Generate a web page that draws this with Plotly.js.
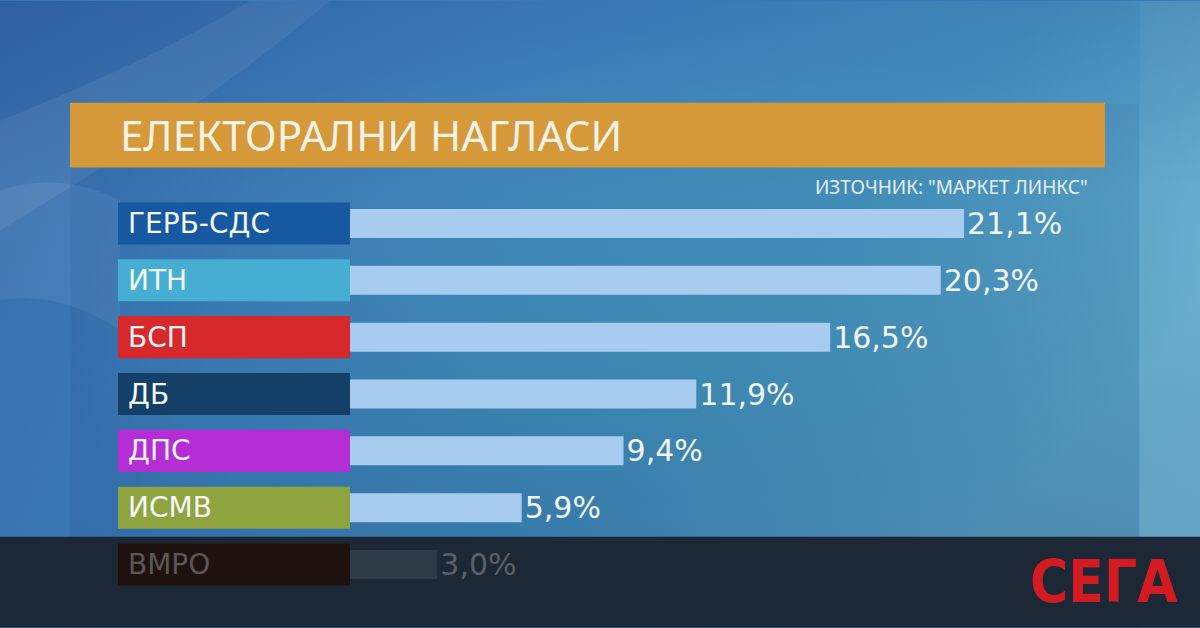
<!DOCTYPE html>
<html lang="bg">
<head>
<meta charset="utf-8">
<script src="https://cdn.plot.ly/plotly-3.0.1.min.js"></script>
<style>
html,body{margin:0;padding:0;background:#3a78b8;}
#chart{width:1200px;height:628px;}
</style>
</head>
<body>
<div id="chart"></div>
<script>
// ---- data ----
const categories = ['ГЕРБ-СДС', 'ИТН', 'БСП', 'ДБ', 'ДПС', 'ИСМВ', 'ВМРО'];
const values = [21.1, 20.3, 16.5, 11.9, 9.4, 5.9, 3.0];
const titleText = 'ЕЛЕКТОРАЛНИ НАГЛАСИ';
const sourceText = 'ИЗТОЧНИК: "МАРКЕТ ЛИНКС"';
const logoText = 'СЕГА';

// ---- styles ----
const boxColors = ['#1659a0', '#47aed3', '#d7282b', '#143f66', '#b52ed5', '#8fa43f', '#1f110e'];
const barColors = ['#a7ccef', '#a7ccef', '#a7ccef', '#a7ccef', '#a7ccef', '#a7ccef', '#2e3a45'];
const labelColors = ['#f4f6f8', '#f4f6f8', '#f4f6f8', '#f4f6f8', '#f4f6f8', '#f4f6f8', '#585858'];
const valueColors = ['#f2f5f8', '#f2f5f8', '#f2f5f8', '#f2f5f8', '#f2f5f8', '#f2f5f8', '#5a6067'];

const W = 1200, H = 628;
const M = {l: 0, r: 0, t: 194.5, b: 34.5};
const plotW = W - M.l - M.r, plotH = H - M.t - M.b;
const px = x => (x - M.l) / plotW;
const py = y => 1 - (y - M.t) / plotH;
const UNIT = 29.1;             // pixels per percentage point
const ZERO = 350;              // pixel where bars start
const LABEL_W = 232 / UNIT;    // width of the label boxes in axis units
const FONT = 'Noto Sans, Open Sans, DejaVu Sans, sans-serif';
const FONT_WIDE = 'DejaVu Sans, Noto Sans, sans-serif';

// background
const bgSvg = `<svg xmlns="http://www.w3.org/2000/svg" width="1200" height="628" viewBox="0 0 1200 628" preserveAspectRatio="none">
<defs>
<linearGradient id="g" x1="0" y1="0" x2="1" y2="0.5">
<stop offset="0" stop-color="#3466a6"/>
<stop offset="0.35" stop-color="#3f7fbd"/>
<stop offset="0.7" stop-color="#4590c0"/>
<stop offset="1" stop-color="#66aecd"/>
</linearGradient>
<linearGradient id="v" x1="0" y1="0" x2="0" y2="1">
<stop offset="0" stop-color="#0b2f6a" stop-opacity="0.12"/>
<stop offset="0.3" stop-color="#0b2f6a" stop-opacity="0"/>
<stop offset="1" stop-color="#0b2f6a" stop-opacity="0.15"/>
</linearGradient>
<radialGradient id="r" cx="0.55" cy="0.55" r="0.5">
<stop offset="0" stop-color="#46a3bd" stop-opacity="0.55"/>
<stop offset="1" stop-color="#46a3bd" stop-opacity="0"/>
</radialGradient>
<linearGradient id="p" x1="0" y1="0" x2="0" y2="1">
<stop offset="0" stop-color="#1a4a78" stop-opacity="0.08"/>
<stop offset="1" stop-color="#1a3f80" stop-opacity="0.20"/>
</linearGradient>
</defs>
<rect width="1200" height="628" fill="url(#g)"/>
<rect width="1200" height="628" fill="url(#r)"/>
<path d="M0 120 Q 150 60 250 0 L 330 0 Q 200 110 0 230 Z" fill="#ffffff" opacity="0.07"/>
<path d="M0 190 Q 60 170 120 200 L 120 330 Q 60 290 0 300 Z" fill="#ffffff" opacity="0.07"/>
<path d="M1140 0 L 1200 0 L 1200 628 L 1140 628 Z" fill="#ffffff" opacity="0.06"/>
<path d="M70 103 L 1139 103 L 1139 628 L 70 628 Z" fill="url(#p)"/>
<rect width="1200" height="628" fill="url(#v)"/>
</svg>`;
const bgUri = 'data:image/svg+xml;charset=utf-8,' + encodeURIComponent(bgSvg);

const boxTrace = {
  type: 'bar', orientation: 'h',
  y: categories,
  x: categories.map(() => LABEL_W),
  base: -LABEL_W,
  width: 0.74,
  marker: {color: boxColors, line: {width: 0}},
  hoverinfo: 'skip',
  showlegend: false
};

const valueTrace = {
  type: 'bar', orientation: 'h',
  y: categories,
  x: values,
  width: 0.51,
  marker: {color: barColors, line: {width: 0}},
  texttemplate: '%{x:.1f}%',
  textposition: 'outside',
  textfont: {family: FONT_WIDE, size: 30, color: valueColors},
  cliponaxis: false,
  constraintext: 'none',
  hoverinfo: 'skip',
  showlegend: false
};

const labelAnnotations = categories.map((c, i) => ({
  x: -LABEL_W, xref: 'x', y: c, yref: 'y',
  text: c, showarrow: false,
  xanchor: 'left', yanchor: 'middle', xshift: 8,
  font: {family: FONT_WIDE, size: 28, color: labelColors[i]}
}));

const layout = {
  width: W, height: H,
  margin: M,
  separators: ', ',
  paper_bgcolor: '#3a78b8',
  plot_bgcolor: 'rgba(0,0,0,0)',
  barmode: 'overlay',
  showlegend: false,
  title: {
    text: titleText,
    x: 120 / W, xanchor: 'left', xref: 'paper',
    y: 1 - 136 / H, yanchor: 'middle', yref: 'container',
    font: {family: FONT, size: 42, color: '#f7f2e6'}
  },
  xaxis: {
    range: [(M.l - ZERO) / UNIT, (W - M.r - ZERO) / UNIT],
    visible: false, fixedrange: true
  },
  yaxis: {
    type: 'category',
    range: [categories.length - 0.5, -0.5],
    visible: false, fixedrange: true
  },
  images: [{
    source: bgUri, xref: 'paper', yref: 'paper',
    x: px(0), y: py(0), sizex: W / plotW, sizey: H / plotH,
    xanchor: 'left', yanchor: 'top', sizing: 'stretch', layer: 'below'
  }],
  shapes: [
    {type: 'rect', xref: 'paper', yref: 'paper', layer: 'below',
     x0: px(70), x1: px(1105), y0: py(102), y1: py(167),
     fillcolor: '#d5993a', line: {width: 0}},
    {type: 'rect', xref: 'paper', yref: 'paper', layer: 'below',
     x0: px(0), x1: px(W), y0: py(537), y1: py(H),
     fillcolor: '#1c2835', line: {width: 0}}
  ],
  annotations: labelAnnotations.concat([
    {x: px(1090), xref: 'paper', y: py(186), yref: 'paper',
     text: sourceText, showarrow: false, xanchor: 'right', yanchor: 'middle',
     font: {family: FONT, size: 19, color: '#e9eff5'}},
    {x: px(1180), xref: 'paper', y: py(582), yref: 'paper',
     text: logoText, showarrow: false, xanchor: 'right', yanchor: 'middle',
     font: {family: 'DejaVu Sans Condensed, Liberation Sans Narrow, Liberation Sans, sans-serif', size: 58, weight: 'bold', color: '#d41b21'}}
  ])
};

Plotly.newPlot('chart', [boxTrace, valueTrace], layout, {displayModeBar: false, staticPlot: true});
</script>
</body>
</html>
